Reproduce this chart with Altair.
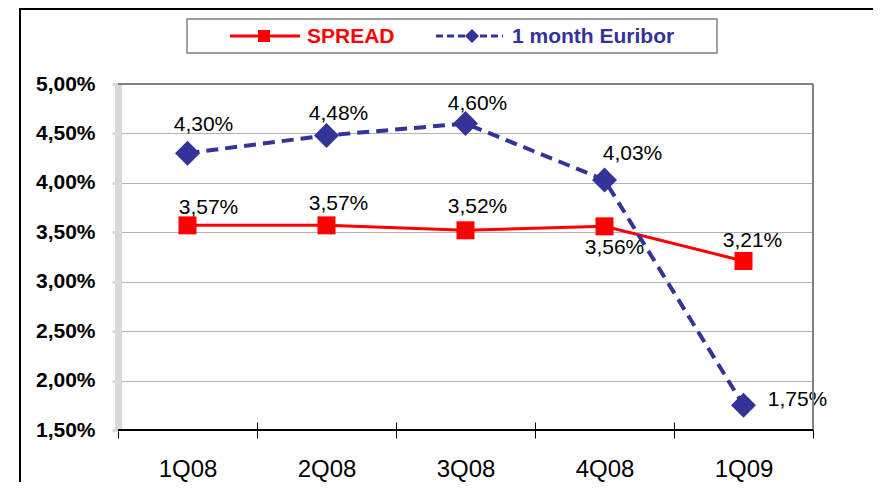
import altair as alt
import pandas as pd

# ---- data -------------------------------------------------------------
quarters = ["1Q08", "2Q08", "3Q08", "4Q08", "1Q09"]
spread = [3.57, 3.57, 3.52, 3.56, 3.21]
euribor = [4.30, 4.48, 4.60, 4.03, 1.75]
y_ticks = [1.5, 2.0, 2.5, 3.0, 3.5, 4.0, 4.5, 5.0]
series_names = ["SPREAD", "1 month Euribor"]

# ---- style ------------------------------------------------------------
RED = "#FF0000"
BLUE = "#333399"
FONT = "Liberation Sans, Arial, sans-serif"
W, H = 695, 346
PAD = {"left": 110, "top": 76, "right": 60, "bottom": 52}

df = pd.DataFrame({
    "quarter": quarters * 2,
    "idx": list(range(5)) * 2,
    "series": [series_names[0]] * 5 + [series_names[1]] * 5,
    "value": spread + euribor,
})
df["label"] = df["value"].map(lambda v: f"{v:.2f}".replace(".", ",") + "%")

x_enc = alt.X(
    "quarter:N", sort=quarters, bandPosition=0.5,
    scale=alt.Scale(type="band", paddingInner=0, paddingOuter=0),
    axis=alt.Axis(title=None, labelAngle=0, labelFont=FONT, labelFontSize=24,
                  labelColor="black", domain=False, ticks=True, tickColor="black",
                  tickWidth=1, tickSize=16, tickBand="extent", offset=-8,
                  labelPadding=19, grid=False),
)
y_enc = alt.Y(
    "value:Q",
    scale=alt.Scale(domain=[1.5, 5.0], nice=False, zero=False),
    axis=alt.Axis(title=None, values=y_ticks,
                  labelExpr="replace(format(datum.value, '.2f'), '.', ',') + '%'",
                  labelFont=FONT, labelFontSize=21, labelFontWeight="bold",
                  labelColor="black", domainColor="#D9D9D9", domainWidth=7,
                  tickColor="#D9D9D9", tickWidth=3, tickSize=6, labelPadding=17,
                  grid=True, gridColor="#666666", gridDash=[1, 1], gridWidth=1),
)

base = alt.Chart(df)

red_line = base.transform_filter(alt.datum.series == series_names[0]).mark_line(
    color=RED, strokeWidth=3).encode(x=x_enc, y=y_enc, order="idx:Q")
red_pts = base.transform_filter(alt.datum.series == series_names[0]).mark_point(
    shape="square", filled=True, size=324, color=RED, opacity=1).encode(x=x_enc, y=y_enc)
blue_line = base.transform_filter(alt.datum.series == series_names[1]).mark_line(
    color=BLUE, strokeWidth=4, strokeDash=[12, 7]).encode(x=x_enc, y=y_enc, order="idx:Q")
blue_pts = base.transform_filter(alt.datum.series == series_names[1]).mark_point(
    shape="diamond", filled=True, size=625, color=BLUE, opacity=1).encode(x=x_enc, y=y_enc)

# label offsets (styling)
offsets = {
    series_names[0]: [(21, -17), (12, -21), (12, -23), (10, 22), (9, -20)],
    series_names[1]: [(16, -28), (12, -21), (12, -20), (28, -26), (54, -5)],
}
labels = []
for s in series_names:
    for q, (dx, dy) in zip(quarters, offsets[s]):
        labels.append(
            base.transform_filter((alt.datum.series == s) & (alt.datum.quarter == q))
            .mark_text(dx=dx, dy=dy, font=FONT, fontSize=21, color="black",
                       align="center", baseline="middle")
            .encode(x=x_enc, y=y_enc, text="label:N")
        )

one = alt.Chart(pd.DataFrame({"k": [0]}))

# plot frame (top/right gray, bottom black)
top_border = one.mark_rule(color="#808080", strokeWidth=2).encode(
    x=alt.value(0), x2=alt.value(W), y=alt.value(0))
right_border = one.mark_rule(color="#808080", strokeWidth=2).encode(
    x=alt.value(W), y=alt.value(0), y2=alt.value(H))
bottom_line = one.mark_rule(color="black", strokeWidth=2).encode(
    x=alt.value(0), x2=alt.value(W), y=alt.value(H))

# outer frame lines
frame_top = one.mark_rule(color="black", strokeWidth=2).encode(
    x=alt.value(-98), x2=alt.value(W + PAD["right"]), y=alt.value(-75))
frame_left = one.mark_rule(color="black", strokeWidth=2).encode(
    x=alt.value(-98), y=alt.value(-76), y2=alt.value(H + PAD["bottom"]))

# legend
LY = -48
leg_box = one.mark_rect(fill="white", stroke="#808080", strokeWidth=1.5).encode(
    x=alt.value(69), x2=alt.value(599), y=alt.value(-65), y2=alt.value(-31))
leg_red_line = one.mark_rule(color=RED, strokeWidth=3).encode(
    x=alt.value(112), x2=alt.value(182), y=alt.value(LY))
leg_red_pt = one.mark_point(shape="square", filled=True, size=144, color=RED, opacity=1).encode(
    x=alt.value(146), y=alt.value(LY))
leg_red_txt = one.mark_text(align="left", baseline="middle", font=FONT, fontSize=21,
                            fontWeight="bold", color=RED, text=series_names[0]).encode(
    x=alt.value(189), y=alt.value(LY + 1))
leg_blue_line = one.mark_rule(color=BLUE, strokeWidth=3, strokeDash=[7, 4]).encode(
    x=alt.value(318), x2=alt.value(385), y=alt.value(LY))
leg_blue_pt = one.mark_point(shape="diamond", filled=True, size=196, color=BLUE, opacity=1).encode(
    x=alt.value(354), y=alt.value(LY))
leg_blue_txt = one.mark_text(align="left", baseline="middle", font=FONT, fontSize=21,
                             fontWeight="bold", color=BLUE, text=series_names[1]).encode(
    x=alt.value(394), y=alt.value(LY + 1))

chart = alt.layer(
    red_line, blue_line, red_pts, blue_pts, *labels,
    top_border, right_border, bottom_line, frame_top, frame_left,
    leg_box, leg_red_line, leg_red_pt, leg_red_txt, leg_blue_line, leg_blue_pt, leg_blue_txt,
).properties(
    width=W, height=H,
    padding=PAD,
    autosize=alt.AutoSizeParams(type="none"),
    background="white",
).configure_view(stroke=None)

chart.save("out.html", embed_options={"renderer": "svg", "actions": False})
